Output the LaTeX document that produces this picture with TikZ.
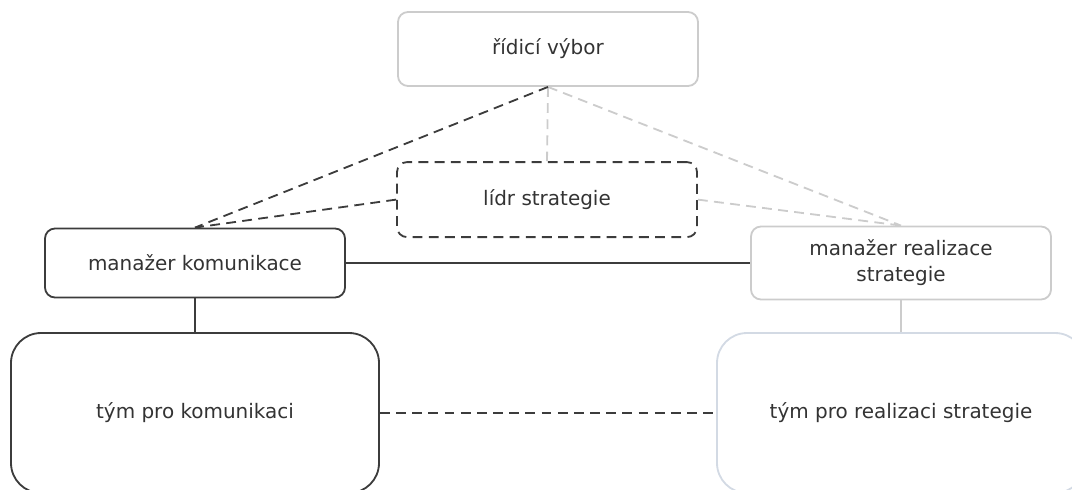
\documentclass[tikz,border=0pt]{standalone}
\usepackage{fontspec}
\setmainfont{DejaVu Sans}
\usetikzlibrary{positioning}
\definecolor{darkline}{HTML}{3C3C3C}
\definecolor{lightline}{HTML}{CCCCCC}
\definecolor{blueline}{HTML}{D3DAE4}
\definecolor{textgray}{HTML}{333333}
\tikzset{
	box/.style={rectangle, rounded corners=0.25cm, line width=1.3pt,
		minimum width=7.5cm, align=center, text=textgray,
		font=\fontsize{14.2}{18.5}\selectfont},
	teambox/.style={box, rounded corners=0.75cm, minimum width=9.2cm, minimum height=4cm},
	darkbox/.style={draw=darkline},
	lightbox/.style={draw=lightline},
	dline/.style={darkline, line width=1.3pt},
	lline/.style={lightline, line width=1.3pt},
	dashes/.style={dash pattern=on 7pt off 4.5pt}
}
\begin{document}
\begin{tikzpicture}
	\useasboundingbox (0,0) rectangle (26.8,-12.225);
	%top
	\node[box, lightbox, minimum height=1.85cm] (vybor) at (13.7,-1.225) {řídicí výbor};
	\node[box, darkbox, dashes, minimum height=1.875cm] (lidr) at (13.675,-4.99) {lídr strategie};
	%managers
	\node[box, darkbox, minimum height=1.725cm] (mkom) at (4.875,-6.575) {manažer komunikace};
	\node[box, lightbox, minimum height=1.825cm] (mreal) at (22.525,-6.575) {manažer realizace\\strategie};
	%teams
	\node[teambox, darkbox] (tkom) at (4.875,-10.325) {tým pro komunikaci};
	\node[teambox, draw=blueline] (treal) at (22.525,-10.325) {tým pro realizaci strategie};
	
	\draw[lline, dashes] (vybor.south) -- (lidr.north);
	\draw[lline, dashes] (vybor.south) -- (mreal.north);
	\draw[lline, dashes] (lidr.east) -- (mreal.north);
	\draw[dline, dashes] (vybor.south) -- (mkom.north);
	\draw[dline, dashes] (lidr.west) -- (mkom.north);
	\draw[dline] (mkom.east) -- (mreal.west);
	\draw[dline] (mkom.south) -- (tkom.north);
	\draw[lline] (mreal.south) -- (treal.north);
	\draw[dline, dashes] (tkom.east) -- (treal.west);
\end{tikzpicture}
\end{document}
